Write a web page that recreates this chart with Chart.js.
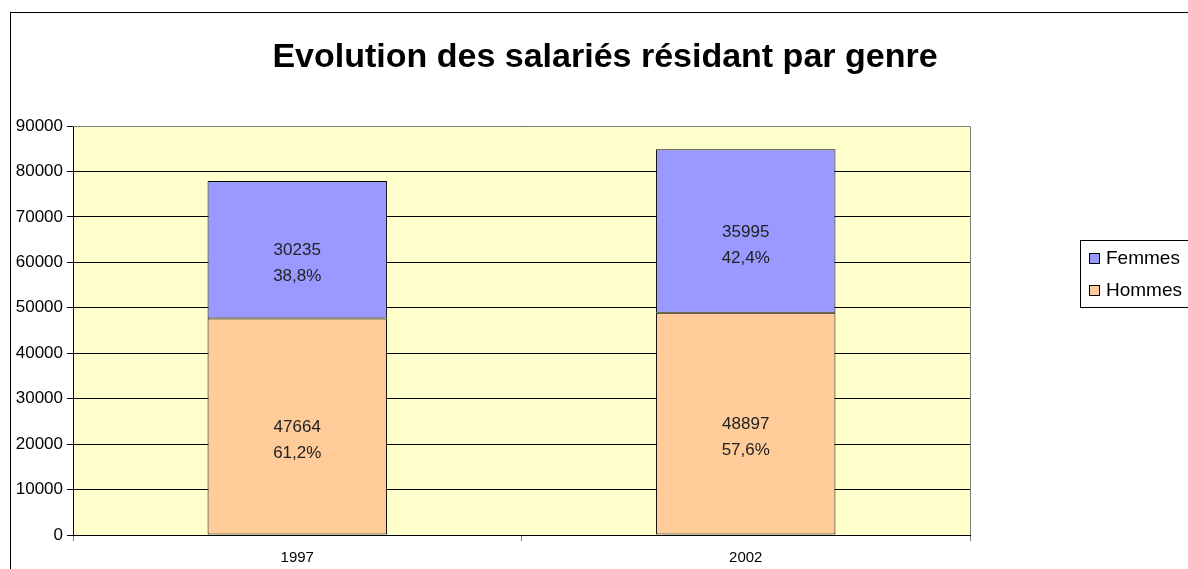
<!DOCTYPE html>
<html>
<head>
<meta charset="utf-8">
<script src="https://cdn.jsdelivr.net/npm/chart.js@4/dist/chart.umd.min.js"></script>
<style>
  html, body { margin: 0; padding: 0; background: #fff; }
  #wrap { width: 1188px; height: 569px; position: relative; }
</style>
</head>
<body>
<div id="wrap"><canvas id="salesChart"></canvas></div>
<script>
// data
const years = ["1997", "2002"];
const hommes = [47664, 48897];
const femmes = [30235, 35995];
const hommesPct = ["61,2%", "57,6%"];
const femmesPct = ["38,8%", "42,4%"];
const yTicks = [0, 10000, 20000, 30000, 40000, 50000, 60000, 70000, 80000, 90000];
const chartTitle = "Evolution des salariés résidant par genre";

const fontFamily = "'Liberation Sans', Arial, sans-serif";

// yellow plot background, outer frame and title
const frame = {
  id: "frame",
  beforeDraw(chart) {
    const ctx = chart.ctx;
    const a = chart.chartArea;
    ctx.save();
    ctx.strokeStyle = "#000";
    ctx.lineWidth = 1;
    ctx.strokeRect(10.5, 12.5, 1400, 800);
    ctx.fillStyle = "#FFFFCC";
    ctx.fillRect(a.left, a.top, a.right - a.left, a.bottom - a.top);
    ctx.fillStyle = "#000";
    ctx.font = "bold 34px " + fontFamily;
    ctx.textAlign = "center";
    ctx.textBaseline = "middle";
    ctx.fillText(chartTitle, 605, 58);
    ctx.restore();
  },
  afterDatasetsDraw(chart) {
    const ctx = chart.ctx;
    const a = chart.chartArea;
    ctx.save();
    ctx.strokeStyle = "#808080";
    ctx.lineWidth = 1;
    ctx.beginPath();
    ctx.moveTo(a.left, a.top + 0.5);
    ctx.lineTo(a.right + 0.5, a.top + 0.5);
    ctx.lineTo(a.right + 0.5, a.bottom);
    ctx.stroke();
    ctx.restore();
  }
};

// value + percent labels inside each bar
const pctLabels = [hommesPct, femmesPct];
const barLabels = {
  id: "barLabels",
  afterDatasetsDraw(chart) {
    const ctx = chart.ctx;
    ctx.save();
    ctx.font = "17px " + fontFamily;
    ctx.fillStyle = "#222";
    ctx.textAlign = "center";
    ctx.textBaseline = "middle";
    chart.data.datasets.forEach((ds, i) => {
      chart.getDatasetMeta(i).data.forEach((bar, j) => {
        const mid = (bar.y + bar.base) / 2;
        ctx.fillText(String(ds.data[j]), bar.x, mid + 1);
        ctx.fillText(pctLabels[i][j], bar.x, mid + 27);
      });
    });
    ctx.restore();
  }
};

// legend box on the right (Femmes on top like the original)
const sideLegend = {
  id: "sideLegend",
  afterDraw(chart) {
    const ctx = chart.ctx;
    const x = 1080, y = 240;
    ctx.save();
    ctx.fillStyle = "#fff";
    ctx.fillRect(x, y, 200, 67);
    ctx.strokeStyle = "#000";
    ctx.lineWidth = 1;
    ctx.strokeRect(x + 0.5, y + 0.5, 200, 67);
    ctx.font = "19px " + fontFamily;
    ctx.textBaseline = "middle";
    const items = chart.data.datasets.slice().reverse();
    items.forEach((ds, k) => {
      const cy = y + 18 + k * 32;
      ctx.fillStyle = ds.backgroundColor;
      ctx.fillRect(x + 9.5, cy - 4.5, 10, 10);
      ctx.strokeStyle = "#000";
      ctx.strokeRect(x + 9.5, cy - 4.5, 10, 10);
      ctx.fillStyle = "#000";
      ctx.fillText(ds.label, x + 26, cy + 1);
    });
    ctx.restore();
  }
};

const ctx = document.getElementById("salesChart").getContext("2d");
window.myChart = new Chart(ctx, {
  type: "bar",
  data: {
    labels: years,
    datasets: [
      {
        label: "Hommes",
        data: hommes,
        backgroundColor: "#FFCC99",
        borderColor: "#000",
        borderWidth: 1,
        borderSkipped: false,
        barPercentage: 0.4,
        categoryPercentage: 1
      },
      {
        label: "Femmes",
        data: femmes,
        backgroundColor: "#9999FF",
        borderColor: "#000",
        borderWidth: 1,
        borderSkipped: false,
        barPercentage: 0.4,
        categoryPercentage: 1
      }
    ]
  },
  options: {
    responsive: true,
    maintainAspectRatio: false,
    animation: false,
    layout: { padding: { left: 0, right: 218, top: 126, bottom: 0 } },
    plugins: {
      legend: { display: false },
      tooltip: { enabled: false },
      title: { display: false }
    },
    scales: {
      x: {
        stacked: true,
        offset: true,
        border: { color: "#000", width: 1 },
        grid: {
          offset: true,
          drawOnChartArea: false,
          tickLength: 6,
          color: "#808080"
        },
        ticks: {
          color: "#000",
          padding: 8,
          font: { family: fontFamily, size: 15 }
        },
        afterFit(scale) { scale.height = 34; }
      },
      y: {
        stacked: true,
        min: 0,
        max: 90000,
        border: { color: "#000", width: 1 },
        grid: { color: "#000", tickLength: 6 },
        afterBuildTicks(scale) { scale.ticks = yTicks.map(v => ({ value: v })); },
        ticks: {
          color: "#000",
          padding: 4,
          font: { family: fontFamily, size: 17 },
          callback: (v) => String(v)
        },
        afterFit(scale) { scale.width = 73; }
      }
    }
  },
  plugins: [frame, barLabels, sideLegend]
});
</script>
</body>
</html>
